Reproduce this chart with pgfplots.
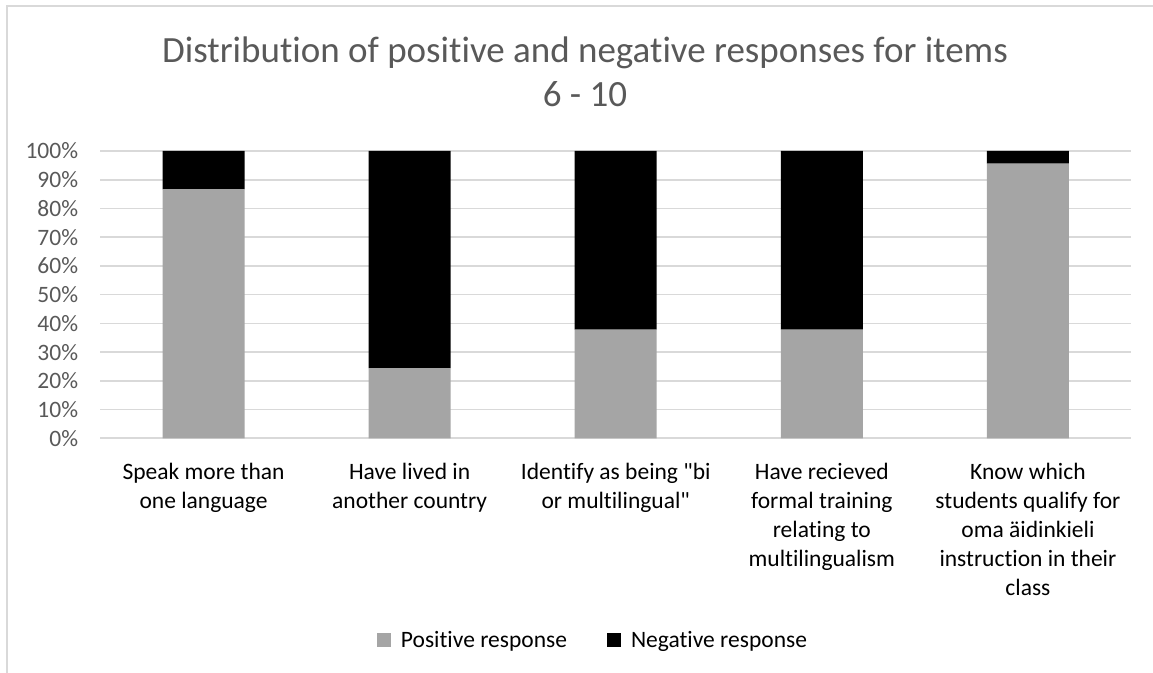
\documentclass[border=0pt]{standalone}
\usepackage{fontspec}
\setmainfont{Carlito}[Ligatures={NoCommon}]
\usepackage{pgfplots}
\pgfplotsset{compat=1.18}
\definecolor{txtgrey}{HTML}{595959}
\definecolor{gridgrey}{HTML}{D9D9D9}
\definecolor{posgrey}{HTML}{A5A5A5}
\begin{document}
\begin{tikzpicture}
\useasboundingbox (0pt,0pt) rectangle (576.5pt,336.5pt);
\draw[gridgrey, line width=1pt] (3.5pt,-20pt) -- (3.5pt,333.5pt) -- (600pt,333.5pt);
\node[anchor=base, text=txtgrey, font=\fontsize{18.5}{22.3}\selectfont, inner sep=0pt] at (292.5pt,305.15pt) {Distribution of positive and negative responses for items};
\node[anchor=base, text=txtgrey, font=\fontsize{18.5}{22.3}\selectfont, inner sep=0pt] at (292.5pt,283pt) {6 - 10};
\begin{axis}[
  at={(50.25pt,117.35pt)}, anchor=south west,
  scale only axis, width=515.25pt, height=143.65pt,
  ybar stacked, bar width=41pt,
  xmin=-0.5, xmax=4.5, ymin=0, ymax=100,
  xtick={0,1,2,3,4},
  xticklabels={{Speak more than\\one language},
               {Have lived in\\another country},
               {Identify as being \textquotedbl bi\\or multilingual\textquotedbl},
               {Have recieved\\formal training\\relating to\\multilingualism},
               {Know which\\students qualify for\\oma äidinkieli\\instruction in their\\class}},
  ytick={0,10,...,100},
  yticklabels={0\%,10\%,20\%,30\%,40\%,50\%,60\%,70\%,80\%,90\%,100\%},
  ymajorgrids, grid style={gridgrey, line width=0.85pt},
  axis line style={draw=none},
  major tick length=0pt,
  tick style={draw=none},
  yticklabel style={text=txtgrey, font=\fontsize{11.75}{14.5}\selectfont, anchor=east, inner sep=0pt, xshift=-11pt},
  xticklabel style={text=black, font=\fontsize{11.75}{14.5}\selectfont, align=center, anchor=north, inner sep=0pt, yshift=-12.3pt},
  legend style={at={(0.2683,-0.7042)}, anchor=west, draw=none, fill=none, inner sep=0pt, outer sep=0pt,
    font=\fontsize{11.75}{14}\selectfont, column sep=0pt,
    cells={anchor=base west, inner sep=0pt},
    /tikz/every even column/.append style={column sep=18pt}},
  legend columns=2,
  legend image code/.code={\fill[#1] (0pt,0pt) rectangle (7pt,7pt); \path (10pt,0pt);},
]
\addplot[fill=posgrey, draw=none] coordinates {(0,86.67) (1,24.44) (2,37.78) (3,37.78) (4,95.56)};
\addplot[fill=black, draw=none] coordinates {(0,13.33) (1,75.56) (2,62.22) (3,62.22) (4,4.44)};
\legend{Positive response, Negative response}
\end{axis}
\end{tikzpicture}
\end{document}
